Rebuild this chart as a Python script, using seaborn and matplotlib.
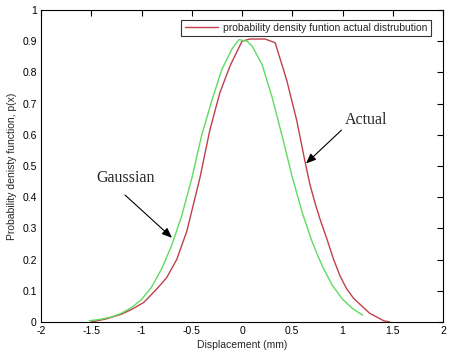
import matplotlib
matplotlib.use("Agg")
import matplotlib.pyplot as plt
import seaborn as sns
import pandas as pd

# Actual distribution (red)
actual_x = [-1.50, -1.35, -1.20, -1.10, -0.98, -0.85, -0.75, -0.65, -0.55, -0.42,
            -0.32, -0.22, -0.12, 0.00, 0.08, 0.23, 0.33, 0.445, 0.544, 0.627,
            0.675, 0.726, 0.78, 0.843, 0.91, 0.975, 1.04, 1.11, 1.27, 1.41, 1.47]
actual_y = [0.000, 0.010, 0.025, 0.040, 0.062, 0.105, 0.142, 0.200, 0.290, 0.460,
            0.615, 0.735, 0.820, 0.900, 0.907, 0.907, 0.895, 0.775, 0.647, 0.514,
            0.442, 0.382, 0.326, 0.268, 0.202, 0.148, 0.107, 0.076, 0.028, 0.004, 0.000]

# Gaussian fit (green)
gauss_x = [-1.52, -1.40, -1.30, -1.20, -1.10, -1.00, -0.90, -0.80, -0.70, -0.60,
           -0.50, -0.40, -0.30, -0.20, -0.10, -0.03, 0.05, 0.10, 0.20, 0.30,
           0.40, 0.50, 0.60, 0.70, 0.80, 0.90, 1.00, 1.10, 1.20]
gauss_y = [0.004, 0.009, 0.016, 0.028, 0.046, 0.072, 0.112, 0.170, 0.245, 0.340,
           0.460, 0.600, 0.710, 0.810, 0.875, 0.905, 0.900, 0.885, 0.825, 0.720,
           0.595, 0.465, 0.350, 0.255, 0.178, 0.117, 0.073, 0.043, 0.022]

x_ticks = [-2, -1.5, -1, -0.5, 0, 0.5, 1, 1.5, 2]
y_ticks = [0, 0.1, 0.2, 0.3, 0.4, 0.5, 0.6, 0.7, 0.8, 0.9, 1]
x_labels = ["-2", "-1.5", "-1", "-0.5", "0", "0.5", "1", "1.5", "2"]
y_labels = ["0", "0.1", "0.2", "0.3", "0.4", "0.5", "0.6", "0.7", "0.8", "0.9", "1"]

sns.set_style("white")
plt.rcParams['font.family'] = ['Liberation Sans', 'DejaVu Sans']

fig = plt.figure(figsize=(4.54, 3.55), dpi=100)
ax = fig.add_axes([41/454, 1-322/355, (443-41)/454, (322-10)/355])

df_a = pd.DataFrame({"x": actual_x, "y": actual_y})
df_g = pd.DataFrame({"x": gauss_x, "y": gauss_y})

sns.lineplot(data=df_a, x="x", y="y", ax=ax, color="#c0404c", lw=1.0,
             sort=False, label="probability density funtion actual distrubution")
sns.lineplot(data=df_g, x="x", y="y", ax=ax, color="#5fdc5f", lw=1.0,
             sort=False, label="_nolegend_")

ax.set_xlim(-2, 2)
ax.set_ylim(0, 1)
ax.set_xticks(x_ticks)
ax.set_xticklabels(x_labels)
ax.set_yticks(y_ticks)
ax.set_yticklabels(y_labels)
ax.tick_params(direction="in", length=4, width=0.8, top=True, right=True,
               labelsize=7.5, pad=3, colors="black")
ax.set_xlabel("Displacement (mm)", fontsize=7.5, labelpad=3)
ax.set_ylabel("Probability denisty function, p(x)", fontsize=7.5, labelpad=4)
for s in ax.spines.values():
    s.set_color("black")
    s.set_linewidth(0.8)

leg = ax.legend(loc="upper right", fontsize=7.5, frameon=True, fancybox=False,
                borderpad=0.3, handlelength=3.2, handletextpad=0.5,
                bbox_to_anchor=(0.982, 0.985))
leg.get_frame().set_edgecolor("black")
leg.get_frame().set_linewidth(0.8)

arrow_style = "-|>,head_length=0.6,head_width=0.25"
ax.text(-1.16, 0.46, "Gaussian", fontsize=11.5, family="Liberation Serif",
        ha="center", va="center")
ax.annotate("", xy=(-0.697, 0.27), xytext=(-1.164, 0.407),
            arrowprops=dict(arrowstyle=arrow_style, color="black", lw=0.8,
                            mutation_scale=10, shrinkA=0, shrinkB=0))
ax.text(1.23, 0.647, "Actual", fontsize=11.5, family="Liberation Serif",
        ha="center", va="center")
ax.annotate("", xy=(0.637, 0.508), xytext=(0.99, 0.615),
            arrowprops=dict(arrowstyle=arrow_style, color="black", lw=0.8,
                            mutation_scale=10, shrinkA=0, shrinkB=0))

fig.savefig("out.png", dpi=100, facecolor="white")
